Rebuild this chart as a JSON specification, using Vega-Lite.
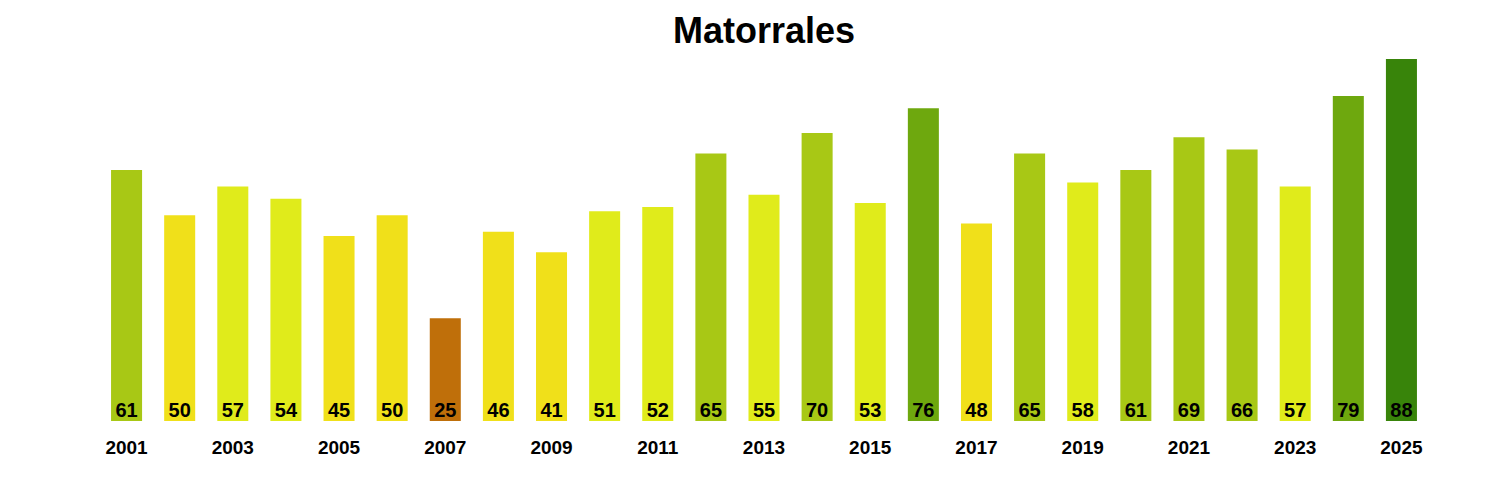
{
  "$schema": "https://vega.github.io/schema/vega-lite/v6.json",
  "autosize": "none",
  "width": 1328,
  "height": 362,
  "padding": {"left": 100, "top": 59, "right": 72, "bottom": 79},
  "background": "white",
  "config": {"view": {"stroke": null}, "font": "Liberation Sans"},
  "title": {"text": "Matorrales", "fontSize": 36, "fontWeight": "bold", "font": "Liberation Sans", "color": "black", "anchor": "middle", "offset": 8},
  "data": {"values": [
    {"year": 2001, "value": 61, "clase": "c4"},
    {"year": 2002, "value": 50, "clase": "c2"},
    {"year": 2003, "value": 57, "clase": "c3"},
    {"year": 2004, "value": 54, "clase": "c3"},
    {"year": 2005, "value": 45, "clase": "c2"},
    {"year": 2006, "value": 50, "clase": "c2"},
    {"year": 2007, "value": 25, "clase": "c1"},
    {"year": 2008, "value": 46, "clase": "c2"},
    {"year": 2009, "value": 41, "clase": "c2"},
    {"year": 2010, "value": 51, "clase": "c3"},
    {"year": 2011, "value": 52, "clase": "c3"},
    {"year": 2012, "value": 65, "clase": "c4"},
    {"year": 2013, "value": 55, "clase": "c3"},
    {"year": 2014, "value": 70, "clase": "c4"},
    {"year": 2015, "value": 53, "clase": "c3"},
    {"year": 2016, "value": 76, "clase": "c5"},
    {"year": 2017, "value": 48, "clase": "c2"},
    {"year": 2018, "value": 65, "clase": "c4"},
    {"year": 2019, "value": 58, "clase": "c3"},
    {"year": 2020, "value": 61, "clase": "c4"},
    {"year": 2021, "value": 69, "clase": "c4"},
    {"year": 2022, "value": 66, "clase": "c4"},
    {"year": 2023, "value": 57, "clase": "c3"},
    {"year": 2024, "value": 79, "clase": "c5"},
    {"year": 2025, "value": 88, "clase": "c6"}
  ]},
  "encoding": {
    "x": {"field": "year", "type": "ordinal",
      "scale": {"paddingInner": 0.416, "paddingOuter": 0.208},
      "axis": {"title": null, "domain": false, "ticks": false, "labelAngle": 0,
        "values": [2001, 2003, 2005, 2007, 2009, 2011, 2013, 2015, 2017, 2019, 2021, 2023, 2025],
        "labelFont": "Liberation Sans", "labelFontSize": 19, "labelFontWeight": "bold", "labelColor": "black",
        "labelBaseline": "alphabetic", "labelPadding": 32}}
  },
  "layer": [
    {"mark": {"type": "bar"},
      "encoding": {
        "y": {"field": "value", "type": "quantitative", "scale": {"domain": [0, 88], "nice": false, "zero": true}, "axis": null},
        "color": {"field": "clase", "type": "nominal", "legend": null,
          "scale": {"domain": ["c1", "c2", "c3", "c4", "c5", "c6"],
            "range": ["#BF6F0A", "#F0E01A", "#E0EB1B", "#A8C815", "#6EA80E", "#38840A"]}}
      }},
    {"mark": {"type": "text", "font": "Liberation Sans", "fontSize": 20, "fontWeight": "bold", "color": "black", "baseline": "alphabetic", "dy": -4.5},
      "encoding": {
        "y": {"datum": 0, "type": "quantitative", "scale": {"domain": [0, 88], "nice": false, "zero": true}},
        "text": {"field": "value", "type": "quantitative"}
      }}
  ]
}
